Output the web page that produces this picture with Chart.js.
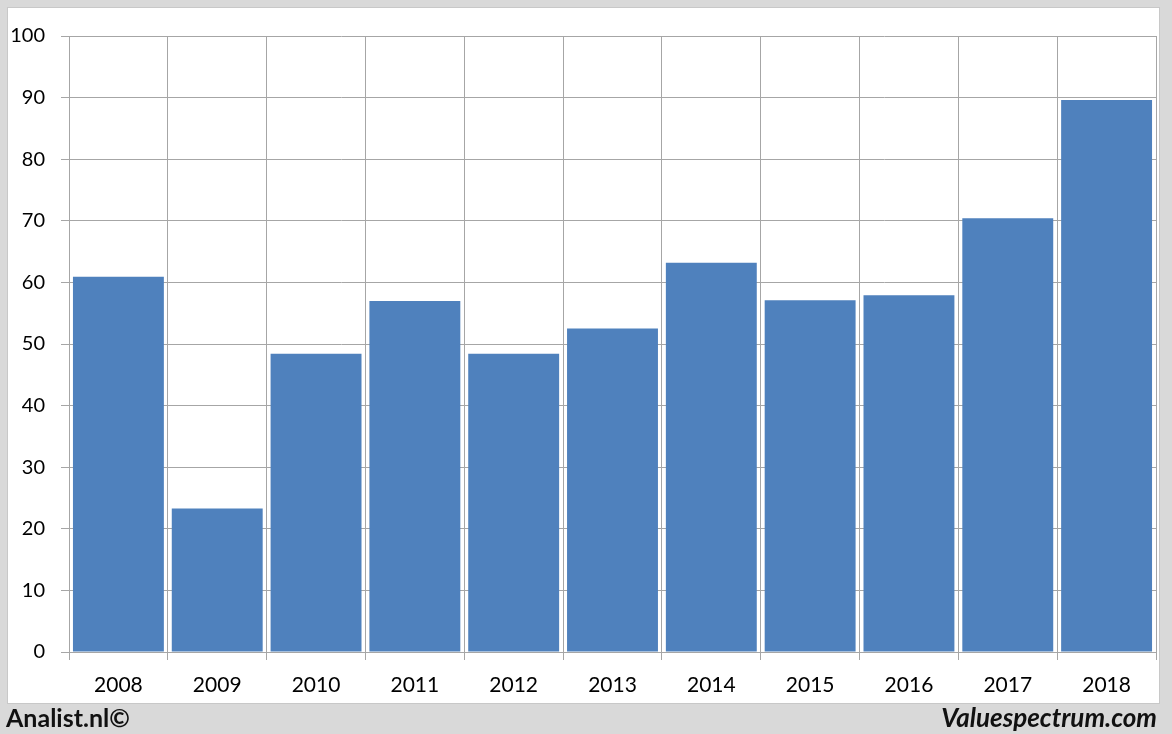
<!DOCTYPE html>
<html>
<head>
<meta charset="utf-8">
<script src="https://cdn.jsdelivr.net/npm/chart.js@4.4.0/dist/chart.umd.min.js"></script>
<style>
html, body { margin: 0; padding: 0; }
body { width: 1172px; height: 734px; background: #d9d9d9; position: relative; overflow: hidden; font-family: Lato, "Open Sans", sans-serif; }
#panel { position: absolute; left: 8px; top: 8px; width: 1151px; height: 695px; background: #fff; box-shadow: 0 0 0 1px #c8c8c8; }
#panel canvas { display: block; }
#footLeft { position: absolute; left: 6px; top: 702px; font-weight: bold; font-size: 25px; line-height: 30px; color: #111; }
#footRight { position: absolute; right: 15px; top: 702px; font-weight: bold; font-style: italic; font-size: 26px; line-height: 30px; color: #111; }
</style>
</head>
<body>
<div id="panel"><canvas id="chart" width="1151" height="695"></canvas></div>
<div id="footLeft">Analist.nl©</div>
<div id="footRight">Valuespectrum.com</div>
<script>
let years = ['2008','2009','2010','2011','2012','2013','2014','2015','2016','2017','2018'];
let values = [60.9, 23.3, 48.4, 57.0, 48.4, 52.5, 63.2, 57.1, 57.9, 70.4, 89.6];
let yMin = 0;
let yMax = 100;
let yStep = 10;

const ctx = document.getElementById('chart').getContext('2d');

const chart = new Chart(ctx, {
type: 'bar',
data: {
labels: years,
datasets: [{
data: values,
backgroundColor: '#4f81bd',
borderWidth: 0,
barPercentage: 0.92,
categoryPercentage: 1
}]
},
options: {
responsive: false,
animation: false,
layout: { padding: { top: 26, right: 3, bottom: 0, left: 0 } },
plugins: { legend: { display: false }, tooltip: { enabled: false } },
scales: {
x: {
grid: { color: '#a6a6a6', lineWidth: 1, tickLength: 8, offset: true },
border: { color: '#a6a6a6' },
ticks: { color: '#000', font: { family: 'Lato', size: 21 }, padding: 13 },
afterFit: function(scale){ scale.height = 51; }
},
y: {
min: yMin,
max: yMax,
grid: { color: '#a6a6a6', lineWidth: 1, tickLength: 8 },
border: { color: '#a6a6a6' },
ticks: { stepSize: yStep, color: '#000', font: { family: 'Lato', size: 20 }, padding: 16 },
afterFit: function(scale){ scale.width = 61; }
}
}
}
});
</script>
</body>
</html>
